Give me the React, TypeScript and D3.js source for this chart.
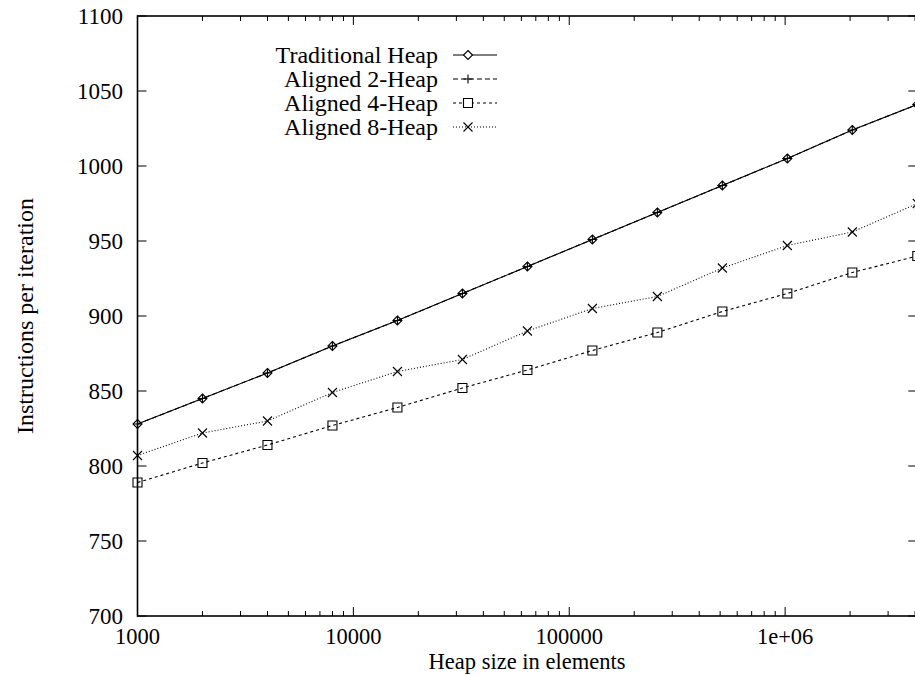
import * as d3 from "d3"

// heap sizes (elements), doubling from 1000
const sizes = [1000, 2000, 4000, 8000, 16000, 32000, 64000, 128000, 256000, 512000, 1024000, 2048000, 4096000]

const traditional = [828, 845, 862, 880, 897, 915, 933, 951, 969, 987, 1005, 1024, 1041]
const aligned2 = [828, 845, 862, 880, 897, 915, 933, 951, 969, 987, 1005, 1024, 1041]
const aligned4 = [789, 802, 814, 827, 839, 852, 864, 877, 889, 903, 915, 929, 940]
const aligned8 = [807, 822, 830, 849, 863, 871, 890, 905, 913, 932, 947, 956, 975]

const seriesNames = ["Traditional Heap", "Aligned 2-Heap", "Aligned 4-Heap", "Aligned 8-Heap"]

const yTicks = [700, 750, 800, 850, 900, 950, 1000, 1050, 1100]
const xMajor = [1000, 10000, 100000, 1000000]
const xMajorLabels = ["1000", "10000", "100000", "1e+06"]

const W = 915
const H = 675
const FONT = '"Liberation Serif", "DejaVu Serif", "Times New Roman", serif'

const x = d3.scaleLog().domain([1000, 4096000]).range([137.5, 917.3])
const y = d3.scaleLinear().domain([700, 1100]).range([616, 16])

// minor ticks on the log axis: 2..9 in each decade
const xMinor: number[] = []
for (let d = 1000; d < 4096000; d *= 10) {
  for (let k = 2; k <= 9; k++) if (d * k <= 4096000) xMinor.push(d * k)
}

type Marker = "diamond" | "plus" | "square" | "cross"

function markerPath(m: Marker, cx: number, cy: number) {
  const r = 4.5
  if (m === "diamond") return `M${cx},${cy - r}L${cx + r},${cy}L${cx},${cy + r}L${cx - r},${cy}Z`
  if (m === "plus") return `M${cx - r},${cy}H${cx + r}M${cx},${cy - r}V${cy + r}`
  if (m === "square") return `M${cx - r},${cy - r}H${cx + r}V${cy + r}H${cx - r}Z`
  return `M${cx - r},${cy - r}L${cx + r},${cy + r}M${cx - r},${cy + r}L${cx + r},${cy - r}`
}

const series = [
  { name: seriesNames[0], values: traditional, dash: "none", marker: "diamond" as Marker },
  { name: seriesNames[1], values: aligned2, dash: "5,3", marker: "plus" as Marker },
  { name: seriesNames[2], values: aligned4, dash: "3,3", marker: "square" as Marker },
  { name: seriesNames[3], values: aligned8, dash: "1,2", marker: "cross" as Marker },
]

export default function App() {
  const line = d3
    .line<number>()
    .x((_, i) => x(sizes[i]))
    .y((v) => y(v))

  const [x0, x1] = x.range()
  const [y0, y1] = y.range()

  return (
    <svg
      width={W}
      height={H}
      style={{ position: "absolute", left: 0, top: 0, background: "#fff", fontFamily: FONT }}
    >
      {/* y ticks, both sides */}
      {yTicks.map((t) => (
        <g key={"y" + t}>
          <line x1={x0} x2={x0 + 9} y1={y(t)} y2={y(t)} stroke="#000" strokeWidth={1} />
          <line x1={x1 - 9} x2={x1} y1={y(t)} y2={y(t)} stroke="#000" strokeWidth={1} />
          <text x={123} y={y(t) + 8} textAnchor="end" fontSize={23} fill="#000">
            {t}
          </text>
        </g>
      ))}

      {/* x major ticks, bottom and top */}
      {xMajor.map((t, i) => (
        <g key={"xm" + t}>
          <line x1={x(t)} x2={x(t)} y1={y0} y2={y0 - 9} stroke="#000" strokeWidth={1} />
          <line x1={x(t)} x2={x(t)} y1={y1} y2={y1 + 9} stroke="#000" strokeWidth={1} />
          <text x={x(t)} y={644} textAnchor="middle" fontSize={22.5} fill="#000">
            {xMajorLabels[i]}
          </text>
        </g>
      ))}
      {xMinor.map((t) => (
        <g key={"xn" + t}>
          <line x1={x(t)} x2={x(t)} y1={y0} y2={y0 - 5} stroke="#000" strokeWidth={1} />
          <line x1={x(t)} x2={x(t)} y1={y1} y2={y1 + 5} stroke="#000" strokeWidth={1} />
        </g>
      ))}

      {/* border */}
      <rect x={x0} y={y1} width={x1 - x0} height={y0 - y1} fill="none" stroke="#000" strokeWidth={1.6} />

      {/* series */}
      {series.map((s) => (
        <g key={s.name}>
          <path d={line(s.values) ?? ""} fill="none" stroke="#000" strokeWidth={1.1} strokeDasharray={s.dash} />
          {s.values.map((v, i) => (
            <path
              key={i}
              d={markerPath(s.marker, x(sizes[i]), y(v))}
              fill="none"
              stroke="#000"
              strokeWidth={1.1}
            />
          ))}
        </g>
      ))}

      {/* legend */}
      {series.map((s, i) => {
        const cy = 55 + i * 24
        return (
          <g key={"lg" + s.name}>
            <text x={438} y={cy + 8} textAnchor="end" fontSize={24} fill="#000">
              {s.name}
            </text>
            <line x1={453} x2={497} y1={cy} y2={cy} stroke="#000" strokeWidth={1.1} strokeDasharray={s.dash} />
            <path d={markerPath(s.marker, 468, cy)} fill="#fff" stroke="#000" strokeWidth={1.1} />
          </g>
        )
      })}

      {/* axis titles */}
      <text x={527} y={669} textAnchor="middle" fontSize={22.5} fill="#000">
        Heap size in elements
      </text>
      <text
        transform={`translate(33,${(y0 + y1) / 2}) rotate(-90)`}
        textAnchor="middle"
        fontSize={24}
        fill="#000"
      >
        Instructions per iteration
      </text>
    </svg>
  )
}
